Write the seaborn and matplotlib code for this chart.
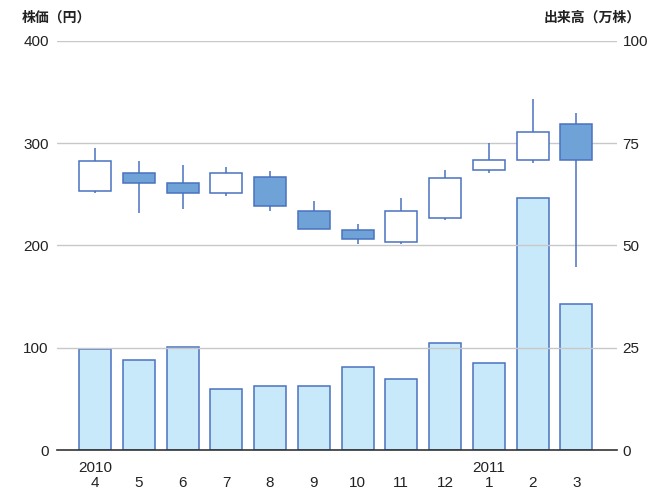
import matplotlib
matplotlib.use("Agg")
import matplotlib.pyplot as plt
import seaborn as sns
import pandas as pd
import numpy as np

# ── data ─────────────────────────────────────────────────
months   = ["4", "5", "6", "7", "8", "9", "10", "11", "12", "1", "2", "3"]
years    = {0: "2010", 9: "2011"}
open_px  = [253.6, 270.6, 260.9, 251.1, 266.7, 234.0, 215.2, 203.7, 226.6, 273.5, 283.6, 318.8]
close_px = [283.0, 260.9, 251.1, 270.6, 238.6, 215.8, 206.6, 233.7, 265.7, 283.9, 310.7, 283.6]
high_px  = [295.6, 282.6, 278.7, 276.8, 272.9, 243.8, 221.0, 246.2, 273.8, 300.5, 343.0, 329.9]
low_px   = [251.0, 231.5, 235.4, 248.4, 233.7, 215.8, 201.2, 201.4, 224.6, 270.6, 280.7, 178.7]
volume   = [24.8, 21.9, 25.3, 14.8, 15.7, 15.6, 20.3, 17.4, 26.1, 21.3, 61.7, 35.7]

price_ticks  = [0, 100, 200, 300, 400]
volume_ticks = [0, 25, 50, 75, 100]

# ── style ────────────────────────────────────────────────
sns.set_style("white")
plt.rcParams["font.family"] = ["Liberation Sans", "Noto Sans CJK JP", "DejaVu Sans"]

COLORS = {
    "bar"   : "#c8e9f9",
    "edge"  : "#4a72c0",
    "down"  : "#6fa3d8",
    "grid"  : "#c8c8c8",
    "text"  : "#222222",
    "axis"  : "#333333",
}
W = 0.73

fig = plt.figure(figsize=(6.51, 4.90), dpi=100)
ax = fig.add_axes([57 / 651, 1 - 450 / 490, 560 / 651, 409 / 490])
ax2 = ax.twinx()

# price grid
for t in price_ticks[1:]:
    ax.axhline(t, color=COLORS["grid"], lw=1.0, zorder=0)

# volume bars (right axis)
df = pd.DataFrame({"month": months, "volume": volume})
sns.barplot(data=df, x="month", y="volume", ax=ax2, color=COLORS["bar"],
            saturation=1, edgecolor=COLORS["edge"], linewidth=1.1, width=W)

# candlesticks (left axis)
x = np.arange(len(months))
o = np.array(open_px); c = np.array(close_px)
ax.vlines(x, low_px, high_px, color=COLORS["edge"], lw=1.1, zorder=2)
fills = [COLORS["down"] if cc < oo else "white" for oo, cc in zip(o, c)]
ax.bar(x, np.abs(c - o), bottom=np.minimum(o, c), width=W, color=fills,
       edgecolor=COLORS["edge"], linewidth=1.1, zorder=3)

# put candles above twin axis
ax.set_zorder(ax2.get_zorder() + 1)
ax.patch.set_visible(False)

ax.set_ylim(0, 400)
ax2.set_ylim(0, 100)
ax.set_xlim(-0.87, 11.93)

ax.set_yticks(price_ticks)
ax.set_yticklabels([str(t) for t in price_ticks])
ax2.set_yticks(volume_ticks)
ax2.set_yticklabels([str(t) for t in volume_ticks])

labels = [f"{years[i]}\n{m}" if i in years else f"\n{m}" for i, m in enumerate(months)]
ax.set_xticks(x)
ax.set_xticklabels(labels, linespacing=1.05)
ax.set_xlabel(""); ax2.set_xlabel(""); ax2.set_ylabel("")

ax.tick_params(axis="y", length=0, pad=6, labelsize=11, labelcolor=COLORS["text"])
ax2.tick_params(axis="y", length=0, pad=4, labelsize=11, labelcolor=COLORS["text"])
ax.tick_params(axis="x", length=0, pad=8, labelsize=11, labelcolor=COLORS["text"])

for a in (ax, ax2):
    for s in a.spines.values():
        s.set_visible(False)
ax.spines["bottom"].set_visible(True)
ax.spines["bottom"].set_color(COLORS["axis"])
ax.spines["bottom"].set_linewidth(1.2)

fig.text(22 / 651, 1 - 18 / 490, "株価（円）", ha="left", va="center",
         fontsize=10, fontweight="bold", color=COLORS["text"],
         family=["Noto Sans CJK JP"])
fig.text(641 / 651, 1 - 18 / 490, "出来高（万株）", ha="right", va="center",
         fontsize=10, fontweight="bold", color=COLORS["text"],
         family=["Noto Sans CJK JP"])

fig.savefig("out.png", dpi=100)
